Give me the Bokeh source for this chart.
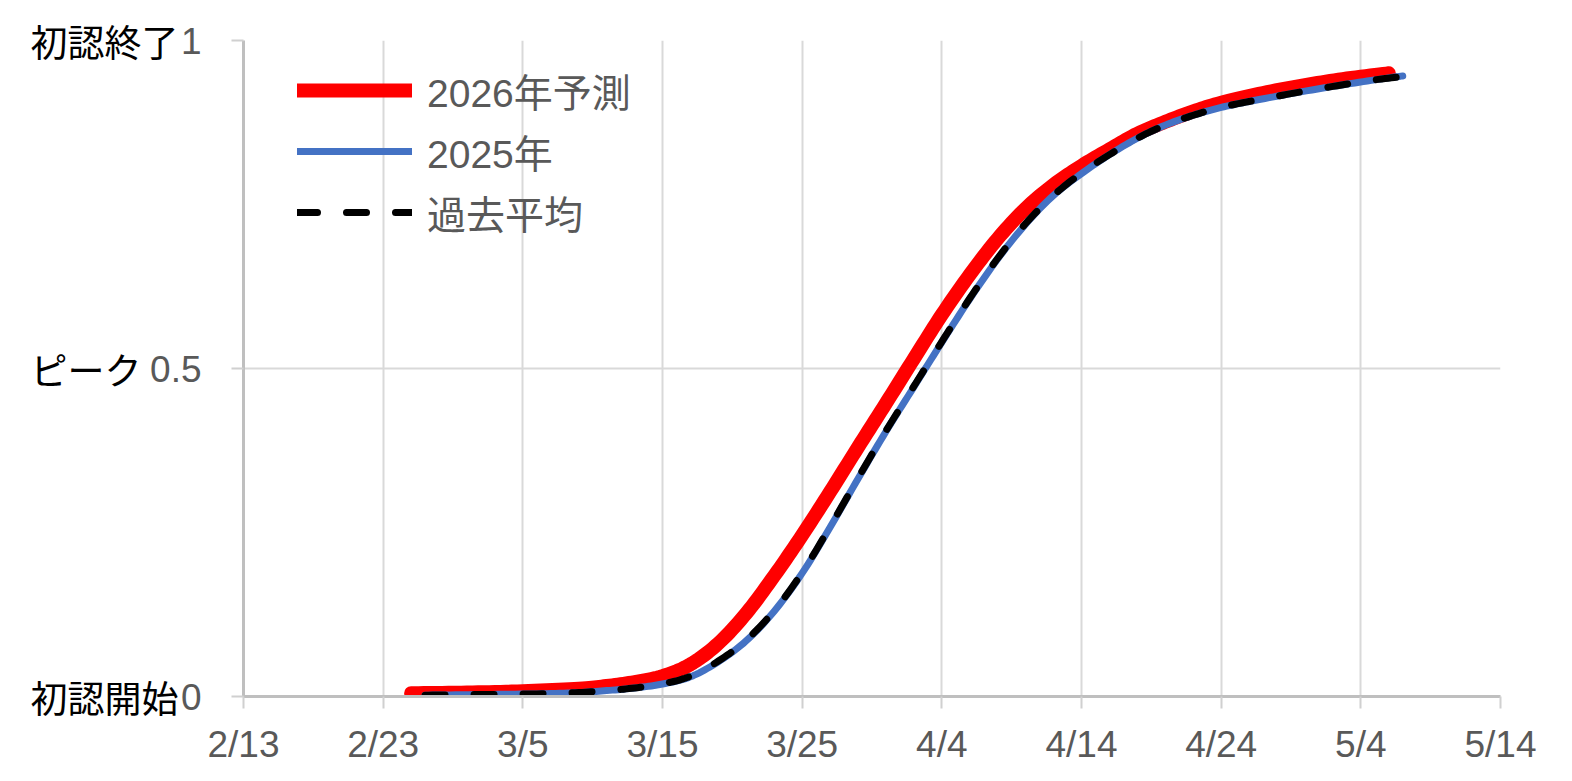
import numpy as np
import pandas as pd
from bokeh.plotting import figure
from bokeh.models import FixedTicker, Legend, LegendItem, LinearAxis
from bokeh.embed import file_html
from bokeh.resources import INLINE

# ---------------- data ----------------
start_date = "2026-02-13"
x_tick_labels = ["2/13", "2/23", "3/5", "3/15", "3/25", "4/4", "4/14", "4/24", "5/4", "5/14"]
y_tick_values = [0, 0.5, 1]
y_tick_labels = ["0", "0.5", "1"]
y_stage_labels = ["初認開始", "ピーク", "初認終了"]
series_names = ["2026年予測", "2025年", "過去平均"]

pred2026_dates = ["2026-02-25", "2026-03-01", "2026-03-05", "2026-03-09", "2026-03-11", "2026-03-13",
                  "2026-03-15", "2026-03-17", "2026-03-19", "2026-03-21", "2026-03-23", "2026-03-25",
                  "2026-03-27", "2026-03-29", "2026-03-31", "2026-04-02", "2026-04-04", "2026-04-06",
                  "2026-04-08", "2026-04-10", "2026-04-12", "2026-04-14", "2026-04-16", "2026-04-18",
                  "2026-04-20", "2026-04-22", "2026-04-24", "2026-04-27", "2026-04-30", "2026-05-03",
                  "2026-05-06"]
pred2026_values = [0.005, 0.006, 0.008, 0.012, 0.016, 0.022,
                   0.031, 0.049, 0.081, 0.127, 0.184, 0.246,
                   0.312, 0.380, 0.447, 0.515, 0.582, 0.643,
                   0.698, 0.744, 0.780, 0.809, 0.834, 0.858,
                   0.876, 0.892, 0.905, 0.920, 0.932, 0.942,
                   0.950]

y2025_dates = ["2026-02-26", "2026-03-02", "2026-03-06", "2026-03-09", "2026-03-11", "2026-03-13",
               "2026-03-15", "2026-03-17", "2026-03-19", "2026-03-21", "2026-03-23", "2026-03-25",
               "2026-03-27", "2026-03-29", "2026-03-31", "2026-04-02", "2026-04-04", "2026-04-06",
               "2026-04-08", "2026-04-10", "2026-04-12", "2026-04-14", "2026-04-16", "2026-04-18",
               "2026-04-20", "2026-04-22", "2026-04-24", "2026-04-26", "2026-04-29", "2026-05-02",
               "2026-05-05", "2026-05-07"]
y2025_values = [0.002, 0.003, 0.004, 0.006, 0.009, 0.013,
                0.019, 0.030, 0.053, 0.085, 0.130, 0.188,
                0.258, 0.332, 0.404, 0.472, 0.540, 0.606,
                0.667, 0.720, 0.764, 0.797, 0.826, 0.851,
                0.871, 0.886, 0.898, 0.907, 0.919, 0.930,
                0.940, 0.946]

avg_dates = ["2026-02-26", "2026-03-02", "2026-03-06", "2026-03-09", "2026-03-11", "2026-03-13",
             "2026-03-15", "2026-03-17", "2026-03-19", "2026-03-21", "2026-03-23", "2026-03-25",
             "2026-03-27", "2026-03-29", "2026-03-31", "2026-04-02", "2026-04-04", "2026-04-06",
             "2026-04-08", "2026-04-10", "2026-04-12", "2026-04-14", "2026-04-16", "2026-04-18",
             "2026-04-20", "2026-04-22", "2026-04-24", "2026-04-26", "2026-04-29", "2026-05-02",
             "2026-05-05", "2026-05-07"]
avg_values = [0.002, 0.003, 0.004, 0.006, 0.009, 0.013,
              0.019, 0.031, 0.054, 0.086, 0.131, 0.189,
              0.259, 0.333, 0.405, 0.473, 0.541, 0.607,
              0.668, 0.721, 0.764, 0.798, 0.826, 0.851,
              0.871, 0.886, 0.898, 0.907, 0.919, 0.930,
              0.940, 0.945]


def days(dates):
    t0 = pd.Timestamp(start_date)
    return [(pd.Timestamp(d) - t0).days for d in dates]


def smooth(xs, ys, n=10):
    """Catmull-Rom rendering of the polyline (like a spreadsheet 'smoothed line')."""
    P = np.column_stack([xs, ys]).astype(float)
    P = np.vstack([P[0], P, P[-1]])
    out = []
    for i in range(1, len(P) - 2):
        p0, p1, p2, p3 = P[i - 1], P[i], P[i + 1], P[i + 2]
        for t in np.linspace(0, 1, n, endpoint=False):
            t2, t3 = t * t, t * t * t
            pt = 0.5 * ((2 * p1) + (-p0 + p2) * t + (2 * p0 - 5 * p1 + 4 * p2 - p3) * t2
                        + (-p0 + 3 * p1 - 3 * p2 + p3) * t3)
            out.append(pt)
    out.append(P[-2])
    out = np.array(out)
    return out[:, 0], out[:, 1]


tick_days = days([f"2026-{lbl.split('/')[0].zfill(2)}-{lbl.split('/')[1].zfill(2)}" for lbl in x_tick_labels])

# ---------------- figure ----------------
LAT = "'Liberation Sans', 'Noto Sans CJK JP', sans-serif"
CJK = "'Noto Sans CJK JP', sans-serif"

p = figure(frame_width=1257, frame_height=656,
           min_border_left=243, min_border_right=64, min_border_top=40, min_border_bottom=77,
           x_range=(tick_days[0], tick_days[-1]), y_range=(0, 1),
           output_backend="svg", toolbar_location=None, tools="")
p.outline_line_color = None
p.background_fill_color = "white"
p.border_fill_color = "white"

p.xaxis.ticker = FixedTicker(ticks=tick_days)
p.xaxis.major_label_overrides = {d: l for d, l in zip(tick_days, x_tick_labels)}
p.yaxis.ticker = FixedTicker(ticks=y_tick_values)
p.yaxis.major_label_overrides = {v: l for v, l in zip(y_tick_values, y_tick_labels)}
p.xaxis.minor_tick_line_color = None
p.yaxis.minor_tick_line_color = None
for ax in (p.xaxis, p.yaxis):
    ax.axis_line_color = "#BFBFBF"
    ax.axis_line_width = 3
    ax.major_tick_line_color = "#D0D0D0"
    ax.major_tick_line_width = 2
    ax.major_tick_out = 12
    ax.major_tick_in = 0
    ax.major_label_text_color = "#595959"
    ax.major_label_text_font = LAT
    ax.major_label_text_font_size = "37px"
p.xaxis.major_label_standoff = 15
p.yaxis.major_label_standoff = 30

# outer left axis carrying the stage names (black)
stage_axis = LinearAxis(ticker=FixedTicker(ticks=y_tick_values),
                        major_label_overrides={v: (l + "\u3000" if l == "ピーク" else l)
                                               for v, l in zip(y_tick_values, y_stage_labels)},
                        axis_line_color=None, major_tick_line_color=None, minor_tick_line_color=None,
                        major_tick_out=0, major_tick_in=0, major_label_standoff=-31,
                        major_label_text_font=CJK, major_label_text_font_size="37px",
                        major_label_text_color="black")
p.add_layout(stage_axis, "left")

p.xgrid.grid_line_color = "#D9D9D9"
p.ygrid.grid_line_color = "#D9D9D9"
p.xgrid.grid_line_width = 2
p.ygrid.grid_line_width = 2

# series
rx, ry = smooth(days(pred2026_dates), pred2026_values)
bx, by = smooth(days(y2025_dates), y2025_values)
ax_, ay_ = smooth(days(avg_dates), avg_values)
r_red = p.line(rx, ry, line_color="#FF0000", line_width=14, line_cap="round", line_join="round")
r_blue = p.line(bx, by, line_color="#4472C4", line_width=7, line_cap="round", line_join="round")
r_black = p.line(ax_, ay_, line_color="black", line_width=7, line_dash="20 29",
                 line_cap="round", line_join="round")

legend = Legend(items=[LegendItem(label=series_names[0], renderers=[r_red]),
                       LegendItem(label=series_names[1], renderers=[r_blue]),
                       LegendItem(label=series_names[2], renderers=[r_black])],
                location=(54, 454), margin=0, padding=0, spacing=1,
                glyph_width=115, glyph_height=60, label_height=60, label_standoff=15,
                label_text_font=LAT, label_text_font_size="39px", label_text_color="#595959",
                background_fill_alpha=0, border_line_color=None)
p.add_layout(legend)

open("out.html", "w").write(file_html(p, INLINE))
